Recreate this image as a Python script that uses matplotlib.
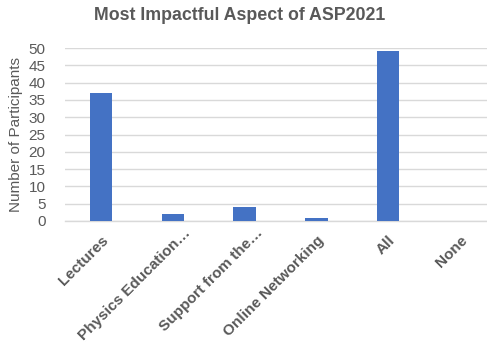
import matplotlib
matplotlib.use("Agg")
import matplotlib.pyplot as plt
from matplotlib.transforms import ScaledTranslation

plt.rcParams['font.family'] = ['Liberation Sans', 'DejaVu Sans']

# survey responses
categories = ["Lectures", "Physics Education\u2026", "Support from the\u2026",
              "Online Networking", "All", "None"]
counts = [37, 2, 4, 1, 49, 0]
yticks = list(range(0, 51, 5))

grey = '#595959'
fig = plt.figure(figsize=(4.87, 3.45), dpi=100)
ax = fig.add_axes([65 / 487, 124 / 345, 422 / 487, 173 / 345])

x = list(range(len(categories)))
ax.bar(x, counts, width=0.31, color='#4472C4', zorder=3)

ax.set_ylim(0, 50)
ax.set_xlim(-0.5, 5.375)
ax.set_yticks(yticks)
ax.set_yticklabels([str(t) for t in yticks], fontsize=11, color=grey)
ax.yaxis.grid(True, color='#d9d9d9', linewidth=1, zorder=0)
ax.tick_params(axis='y', length=0, pad=14)
ax.tick_params(axis='x', length=0, pad=9)

ax.set_xticks(x)
labels = ax.set_xticklabels(categories, rotation=45, ha='right', rotation_mode='anchor',
                            fontsize=11, fontweight='bold', color=grey)
# truncated labels sit a bit further up and right
shift = ScaledTranslation(11 / 100, 8 / 100, fig.dpi_scale_trans)
for lab in labels:
    if lab.get_text().endswith('\u2026'):
        lab.set_transform(lab.get_transform() + shift)

for s in ['top', 'right', 'left']:
    ax.spines[s].set_visible(False)
ax.spines['bottom'].set_color('#d9d9d9')
ax.spines['bottom'].set_linewidth(1)

ax.set_ylabel("Number of Participants", fontsize=11, color=grey, labelpad=4)

fig.text(0.493, 0.955, "Most Impactful Aspect of ASP2021", ha='center', va='center',
         fontsize=12.8, fontweight='bold', color=grey)

fig.savefig("out.png", dpi=100)
